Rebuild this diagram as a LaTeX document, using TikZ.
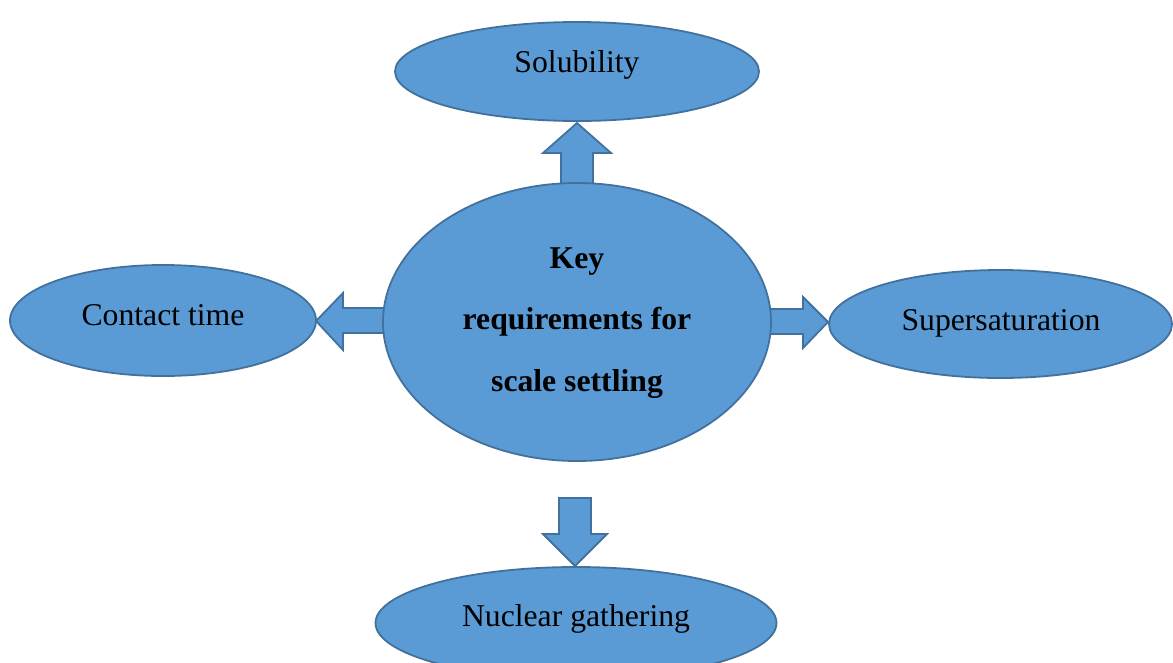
\documentclass[tikz,border=0pt]{standalone}
\usepackage{fontspec}
\setmainfont{Liberation Serif}
\usetikzlibrary{shapes.geometric}
\definecolor{fillblue}{HTML}{5B9BD5}
\definecolor{edgeblue}{HTML}{41719C}
\begin{document}
\begin{tikzpicture}[x=1pt,y=-1pt,
  bubble/.style={ellipse,draw=edgeblue,fill=fillblue,line width=1.8pt,inner sep=0pt},
  blockarrow/.style={draw=edgeblue,fill=fillblue,line width=1.8pt,line join=miter},
  lbl/.style={anchor=base,inner sep=0pt,font=\fontsize{31.7}{38}\selectfont},
  blbl/.style={anchor=base,inner sep=0pt,font=\fontsize{31.7}{38}\selectfont\bfseries}]
\useasboundingbox (0,0) rectangle (1173,662);
% block arrows (drawn first, ellipses overlap their bases)
\draw[blockarrow] (561,186) -- (561,153) -- (543,153) -- (577,123) -- (611,153) -- (593,153) -- (593,186) -- cycle;
\draw[blockarrow] (386,308) -- (343,308) -- (343,293) -- (316,321) -- (343,350) -- (343,333) -- (386,333) -- cycle;
\draw[blockarrow] (768,309) -- (803,309) -- (803,297) -- (828,322) -- (803,348) -- (803,334) -- (768,334) -- cycle;
\draw[blockarrow] (559,498) -- (591,498) -- (591,534) -- (607,534) -- (575,566) -- (543,534) -- (559,534) -- cycle;
% ellipses
\node[bubble,minimum width=364pt,minimum height=99pt] (sol) at (577,71.5) {};
\node[bubble,minimum width=388pt,minimum height=278pt] (key) at (577,322) {};
\node[bubble,minimum width=306pt,minimum height=111pt] (con) at (163,320.5) {};
\node[bubble,minimum width=343pt,minimum height=108pt] (sup) at (1000.5,324) {};
\node[bubble,minimum width=401pt,minimum height=112pt] (nuc) at (576,623) {};
% labels
\node[lbl] (tsol) at (577,72) {Solubility};
\node[lbl] (tcon) at (163,325) {Contact time};
\node[lbl] (tsup) at (1001,330) {Supersaturation};
\node[lbl] (tnuc) at (576,626) {Nuclear gathering};
\node[blbl] (k1) at (577,268) {Key};
\node[blbl] (k2) at (577,329) {requirements for};
\node[blbl] (k3) at (577,391) {scale settling};
\end{tikzpicture}
\end{document}
